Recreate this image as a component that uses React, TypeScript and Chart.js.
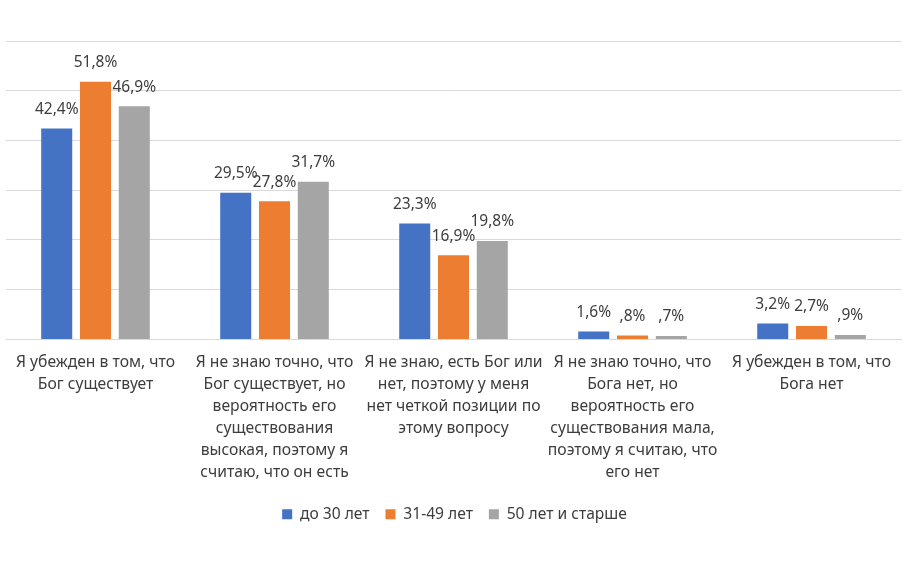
import React, { useEffect, useRef } from "react";
import Chart from "chart.js/auto";

const categories: string[][] = [
  ["Я убежден в том, что", "Бог существует"],
  ["Я не знаю точно, что", "Бог существует, но", "вероятность его", "существования", "высокая, поэтому я", "считаю, что он есть"],
  ["Я не знаю, есть Бог или", "нет, поэтому у меня", "нет четкой позиции по", "этому вопросу"],
  ["Я не знаю точно, что", "Бога нет, но", "вероятность его", "существования мала,", "поэтому я считаю, что", "его нет"],
  ["Я убежден в том, что", "Бога нет"],
];

const seriesNames = ["до 30 лет", "31-49 лет", "50 лет и старше"];

const under30 = [42.4, 29.5, 23.3, 1.6, 3.2];
const from31to49 = [51.8, 27.8, 16.9, 0.8, 2.7];
const over50 = [46.9, 31.7, 19.8, 0.7, 0.9];

const under30Labels = ["42,4%", "29,5%", "23,3%", "1,6%", "3,2%"];
const from31to49Labels = ["51,8%", "27,8%", "16,9%", ",8%", "2,7%"];
const over50Labels = ["46,9%", "31,7%", "19,8%", ",7%", ",9%"];

const yTicks = [0, 10, 20, 30, 40, 50, 60];

const FONT = "'Noto Sans', 'DejaVu Sans', sans-serif";
const TEXT = "#3d3d3d";

const valueLabels = {
  id: "valueLabels",
  afterDatasetsDraw(chart: any) {
    const ctx = chart.ctx;
    ctx.save();
    ctx.font = `15.5px ${FONT}`;
    ctx.fillStyle = TEXT;
    ctx.textAlign = "center";
    ctx.textBaseline = "middle";
    chart.data.datasets.forEach((ds: any, i: number) => {
      const meta = chart.getDatasetMeta(i);
      meta.data.forEach((bar: any, j: number) => {
        ctx.fillText(ds.valueText[j], bar.x, bar.y - 19);
      });
    });
    ctx.restore();
  },
};

const GroupedBarChart: React.FC = () => {
  const chartRef = useRef<HTMLCanvasElement | null>(null);
  const chartInstance = useRef<Chart | null>(null);

  useEffect(() => {
    if (!chartRef.current) return;
    if (chartInstance.current) chartInstance.current.destroy();
    const ctx = chartRef.current.getContext("2d");
    if (!ctx) return;

    const bar = { categoryPercentage: 0.65, barPercentage: 0.8 };

    chartInstance.current = new Chart(ctx, {
      type: "bar",
      data: {
        labels: categories,
        datasets: [
          { label: seriesNames[0], data: under30, valueText: under30Labels, backgroundColor: "#4472C4", ...bar } as any,
          { label: seriesNames[1], data: from31to49, valueText: from31to49Labels, backgroundColor: "#ED7D31", ...bar } as any,
          { label: seriesNames[2], data: over50, valueText: over50Labels, backgroundColor: "#A5A5A5", ...bar } as any,
        ],
      },
      options: {
        animation: false,
        responsive: true,
        maintainAspectRatio: false,
        layout: { padding: { top: 41, left: 6, right: 0, bottom: 51 } },
        plugins: {
          tooltip: { enabled: false },
          legend: {
            position: "bottom",
            labels: {
              font: { family: FONT, size: 15.6 },
              color: TEXT,
              boxWidth: 10,
              boxHeight: 10,
              padding: 16,
            },
          },
        },
        scales: {
          x: {
            grid: { display: false, drawTicks: false },
            border: { color: "#d9d9d9" },
            ticks: {
              font: { family: FONT, size: 15.7, lineHeight: 1.4 },
              color: TEXT,
              padding: 12,
              maxRotation: 0,
              autoSkip: false,
            },
            afterFit: (scale: any) => {
              scale.height = 151;
            },
          },
          y: {
            min: 0,
            max: 60,
            afterBuildTicks: (scale: any) => {
              scale.ticks = yTicks.map((v) => ({ value: v }));
            },
            ticks: { display: false },
            grid: { color: "#d9d9d9", drawTicks: false },
            border: { display: false },
            afterFit: (scale: any) => {
              scale.width = 0;
            },
          },
        },
      },
      plugins: [valueLabels],
    });

    return () => {
      if (chartInstance.current) {
        chartInstance.current.destroy();
        chartInstance.current = null;
      }
    };
  }, []);

  return <canvas ref={chartRef} />;
};

export default function App() {
  return (
    <div style={{ position: "fixed", left: 0, top: 0, width: 903, height: 583, background: "#fff" }}>
      <GroupedBarChart />
    </div>
  );
}
